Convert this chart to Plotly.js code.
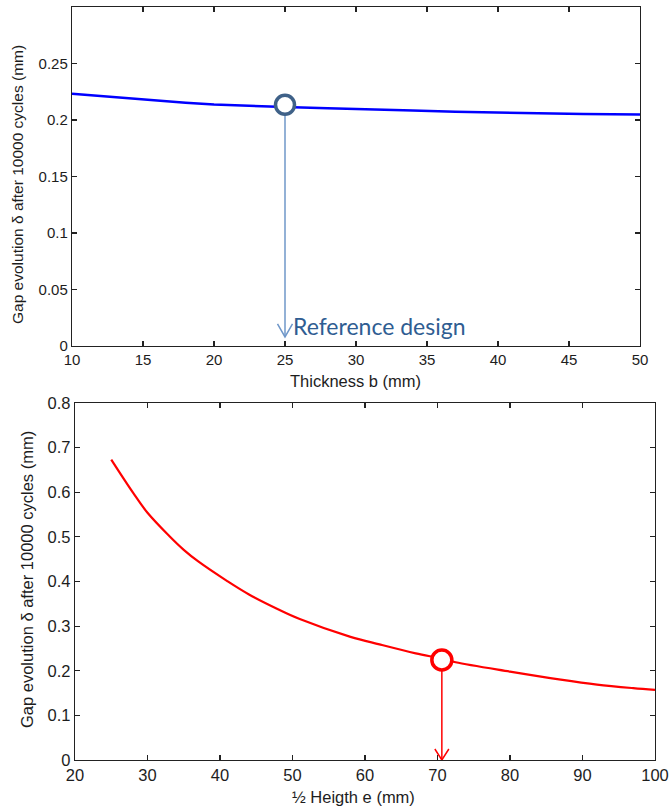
<!DOCTYPE html>
<html>
<head>
<meta charset="utf-8">
<script src="https://cdn.plot.ly/plotly-3.0.1.min.js"></script>
<style>html,body{margin:0;padding:0;background:#fff;}#chart{width:670px;height:809px;}</style>
</head>
<body>
<div id="chart"></div>
<script>
// ---- Data ----
// Top panel: gap evolution vs thickness b
const thicknessB = [10, 12, 14, 16, 18, 20, 22, 25, 28, 31, 34, 37, 40, 43, 46, 50];
const gapVsB = [0.2232, 0.2212, 0.2190, 0.2170, 0.2152, 0.2137, 0.2126, 0.2114, 0.2104, 0.2096, 0.2084, 0.2072, 0.2064, 0.2058, 0.2052, 0.2049];
const refB = [25];
const refGapB = [0.2135];

// Bottom panel: gap evolution vs half height e
const halfHeightE = [25, 28, 30, 33, 35, 37, 41, 44, 48, 51, 58, 62, 67, 70.6, 72.5, 80, 87, 92, 97, 100];
const gapVsE = [0.673, 0.599, 0.554, 0.502, 0.471, 0.445, 0.401, 0.371, 0.338, 0.316, 0.276, 0.259, 0.239, 0.227, 0.219, 0.198, 0.180, 0.169, 0.161, 0.157];
const refE = [70.6];
const refGapE = [0.224];

// Tick labels
const xTicksTop = [10, 15, 20, 25, 30, 35, 40, 45, 50];
const yTicksTop = [0, 0.05, 0.1, 0.15, 0.2, 0.25];
const yTickTextTop = ["0", "0.05", "0.1", "0.15", "0.2", "0.25"];
const xTicksBottom = [20, 30, 40, 50, 60, 70, 80, 90, 100];
const yTicksBottom = [0, 0.1, 0.2, 0.3, 0.4, 0.5, 0.6, 0.7, 0.8];
const yTickTextBottom = ["0", "0.1", "0.2", "0.3", "0.4", "0.5", "0.6", "0.7", "0.8"];

const yTitleText = "Gap evolution δ after 10000 cycles (mm)";
const xTitleTop = "Thickness b (mm)";
const xTitleBottom = "½ Heigth e (mm)";
const refLabel = "Reference design";

// ---- Styles ----
const FONT = "Liberation Sans, Arial, sans-serif";
const TXT = "#1d1d1d";
const blueArrow = "#6f97c9";
const blueMarker = "#3f6188";

const traces = [
  {x: thicknessB, y: gapVsB, xaxis: "x", yaxis: "y", mode: "lines", line: {color: "#0000ff", width: 2.5}, hoverinfo: "skip"},
  {x: refB, y: refGapB, xaxis: "x", yaxis: "y", mode: "markers", marker: {symbol: "circle", size: 19, color: "#ffffff", line: {color: blueMarker, width: 3.5}}, hoverinfo: "skip"},
  {x: halfHeightE, y: gapVsE, xaxis: "x2", yaxis: "y2", mode: "lines", line: {color: "#ff0000", width: 2.2, shape: "spline", smoothing: 1}, hoverinfo: "skip"},
  {x: refE, y: refGapE, xaxis: "x2", yaxis: "y2", mode: "markers", marker: {symbol: "circle", size: 20, color: "#ffffff", line: {color: "#ff0000", width: 3.5}}, hoverinfo: "skip"}
];

function axisBase() {
  return {
    showgrid: false, zeroline: false, showline: true, linecolor: "#222", linewidth: 1.2,
    mirror: "ticks", ticks: "inside", ticklen: 5, tickwidth: 1.2, tickcolor: "#222",
    automargin: false, fixedrange: true
  };
}

const layout = {
  width: 670, height: 809,
  margin: {l: 0, r: 0, t: 0, b: 0},
  paper_bgcolor: "#ffffff", plot_bgcolor: "#ffffff",
  showlegend: false,
  font: {family: FONT, color: TXT},
  xaxis: Object.assign(axisBase(), {
    domain: [72/670, 640/670], range: [10, 50], anchor: "y",
    tickvals: xTicksTop, tickfont: {size: 15, family: FONT, color: TXT}
  }),
  yaxis: Object.assign(axisBase(), {
    domain: [1 - 346/809, 1 - 7/809], range: [0, 0.3], anchor: "x",
    tickvals: yTicksTop, ticktext: yTickTextTop, tickfont: {size: 15, family: FONT, color: TXT}
  }),
  xaxis2: Object.assign(axisBase(), {
    domain: [75/670, 655/670], range: [20, 100], anchor: "y2",
    tickvals: xTicksBottom, tickfont: {size: 16.5, family: FONT, color: TXT}
  }),
  yaxis2: Object.assign(axisBase(), {
    domain: [1 - 760/809, 1 - 403/809], range: [0, 0.8], anchor: "x2",
    tickvals: yTicksBottom, ticktext: yTickTextBottom, tickfont: {size: 16.5, family: FONT, color: TXT}
  }),
  shapes: [
    {type: "line", xref: "x", yref: "y", x0: refB[0], x1: refB[0], y0: refGapB[0], y1: 0.008, line: {color: blueArrow, width: 1.5}, layer: "below"},
    {type: "path", xref: "x", yref: "y", xsizemode: "pixel", ysizemode: "pixel", xanchor: refB[0], yanchor: 0.008,
     path: "M -7.5,13 L 0,0 L 7.5,13", line: {color: blueArrow, width: 1.5}, layer: "above"},
    {type: "line", xref: "x2", yref: "y2", x0: refE[0], x1: refE[0], y0: refGapE[0], y1: 0, line: {color: "#ff0000", width: 1.5}, layer: "below"},
    {type: "path", xref: "x2", yref: "y2", xsizemode: "pixel", ysizemode: "pixel", xanchor: refE[0], yanchor: 0,
     path: "M -7,11 L 0,0 L 7,11", line: {color: "#ff0000", width: 1.5}, layer: "above"}
  ],
  annotations: [
    {text: refLabel, xref: "x", yref: "y", x: refB[0], y: 0.018, xanchor: "left", yanchor: "middle", xshift: 6,
     showarrow: false, font: {family: "Lato, Carlito, Open Sans, sans-serif", size: 23, color: "#2f5d92"}},
    {text: yTitleText, xref: "paper", yref: "paper", x: 17/670, y: 1 - 185/809, xanchor: "center", yanchor: "middle",
     textangle: -90, showarrow: false, font: {family: FONT, size: 15.5, color: TXT}},
    {text: xTitleTop, xref: "paper", yref: "paper", x: 355/670, y: 1 - 381/809, xanchor: "center", yanchor: "middle",
     showarrow: false, font: {family: FONT, size: 16.5, color: TXT}},
    {text: yTitleText, xref: "paper", yref: "paper", x: 27/670, y: 1 - 580/809, xanchor: "center", yanchor: "middle",
     textangle: -90, showarrow: false, font: {family: FONT, size: 16.5, color: TXT}},
    {text: xTitleBottom, xref: "paper", yref: "paper", x: 353/670, y: 1 - 797/809, xanchor: "center", yanchor: "middle",
     showarrow: false, font: {family: FONT, size: 16.5, color: TXT}}
  ]
};

Plotly.newPlot("chart", traces, layout, {staticPlot: true, displayModeBar: false});
</script>
</body>
</html>
